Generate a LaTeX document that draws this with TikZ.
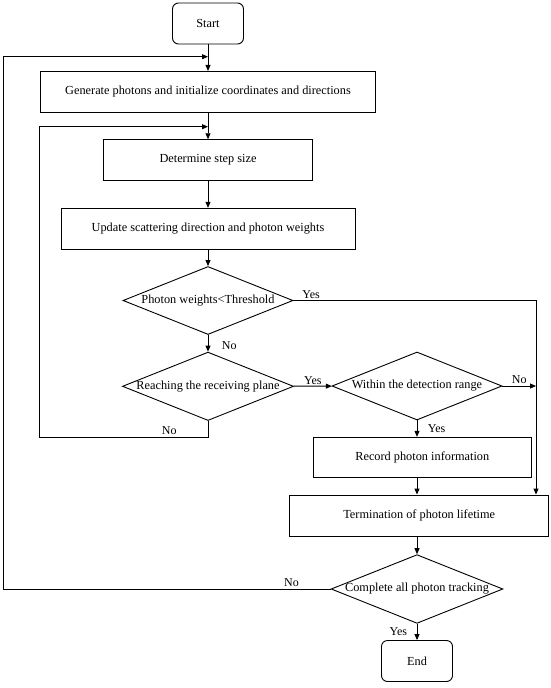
\documentclass[tikz,border=0pt]{standalone}
\usepackage{fontspec}
\setmainfont{Liberation Serif}
\usetikzlibrary{arrows.meta,shapes.geometric}

\begin{document}
\begin{tikzpicture}[x=1pt,y=-1pt,
  proc/.style={draw,line width=0.9pt,minimum height=41pt,inner sep=2pt,
    font=\fontsize{12.3}{14}\selectfont},
  endpt/.style={proc,rounded corners=6pt,minimum width=71pt},
  test/.style={draw,diamond,line width=0.9pt,shape aspect=2.5,inner sep=0pt,
    minimum width=170pt,minimum height=68pt,font=\fontsize{12.3}{14}\selectfont},
  flow/.style={-{Triangle[length=6pt,width=5pt]},line width=0.9pt},
  lbl/.style={font=\fontsize{12}{14}\selectfont,inner sep=1.5pt}]
\useasboundingbox (0,0) rectangle (550,688);
\node[endpt] (start) at (208,23.5) {Start};
\node[proc,minimum width=335.7pt] (gen) at (208,91.9) {Generate photons and initialize coordinates and directions};
\node[proc,minimum width=209.4pt] (stepsz) at (208,160.2) {Determine step size};
\node[proc,minimum width=294pt] (update) at (208,228.8) {Update scattering direction and photon weights};
\node[test] (weight) at (208,300.5) {Photon weights<Threshold};
\node[test] (reach) at (208,386.3) {Reaching the receiving plane};
\node[test] (within) at (417,386) {Within the detection range};
\node[proc,minimum width=218pt,minimum height=40pt] (record) at (422.3,457.3) {Record photon information};
\node[proc,minimum width=259pt] (life) at (419.2,515.5) {Termination of photon lifetime};
\node[test] (track) at (417,589) {Complete all photon tracking};
\node[endpt] (finish) at (417,661) {End};
\coordinate (loopA) at (208,56.7);
\coordinate (loopB) at (208,126.7);
\coordinate (rightcol) at (536,0);
\draw[flow] (start) -- (gen);
\draw[flow] (gen) -- (stepsz);
\draw[flow] (stepsz) -- (update);
\draw[flow] (update) -- (weight);
\draw[flow] (weight) -- node[lbl,right,xshift=12pt,pos=0.65] {No} (reach);
\draw[flow] (weight.east) node[lbl,above right,xshift=7pt] {Yes} -| (life.north -| rightcol);
\draw[flow] (reach) -- node[lbl,above] {Yes} (within);
\draw[flow] (within) -- node[lbl,above] {No} (within.east -| rightcol);
\draw[flow] (within) -- node[lbl,right,xshift=9pt] {Yes} (within.south |- record.north);
\draw[flow] (record.south -| within.south) -- (life.north -| within.south);
\draw[flow] (life.south -| track.north) -- (track);
\draw[flow] (track) -- node[lbl,left,xshift=-8pt] {Yes} (finish);
\draw[flow] (track.west) -- node[lbl,above,pos=0.12] {No} ++(-327,0) |- (loopA);
\draw[flow] (reach.south) -- ++(0,16) -- node[lbl,above,pos=0.23] {No} ++(-168.7,0) |- (loopB);
\end{tikzpicture}
\end{document}
